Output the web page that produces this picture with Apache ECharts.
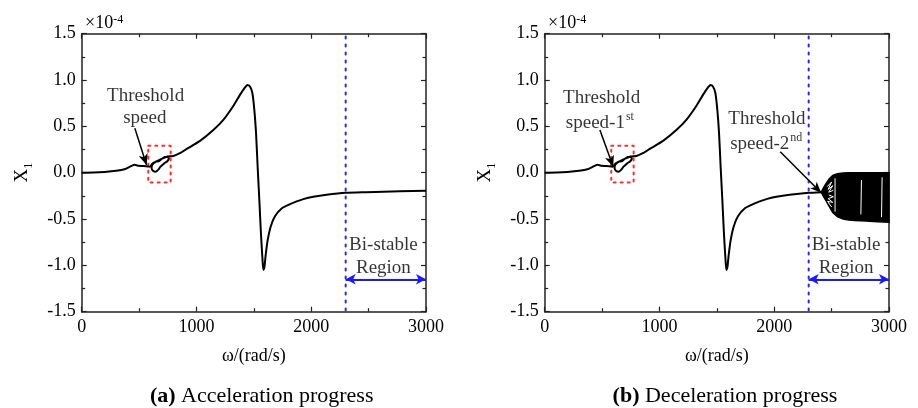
<!DOCTYPE html>
<html>
<head>
<meta charset="utf-8">
<script src="https://cdn.jsdelivr.net/npm/echarts@6/dist/echarts.min.js"></script>
<style>html,body{margin:0;padding:0;background:#fff}#c{width:918px;height:408px}</style>
</head>
<body>
<div id="c"></div>
<script>
// values of X1 in units of 1e-4
const omegaAcc = [0,100,200,300,380,430,460,490,540,594,617,646,675,696,724,748,759,748,718,687,666,646,623,609,614,646,696,748,768,799,855,915,1031,1147,1234,1321,1379,1423,1443,1466,1487,1504,1519,1533,1548,1562,1574,1583,1592,1603,1620,1647,1684,1742,1815,1873,1931,2018,2134,2300,2483,2773,3000];
const x1Acc    = [0,0.002,0.008,0.02,0.04,0.07,0.085,0.076,0.072,0.065,0.10,0.119,0.126,0.148,0.17,0.173,0.155,0.126,0.10,0.065,0.03,0.011,0.018,0.048,0.083,0.119,0.15,0.175,0.178,0.18,0.21,0.256,0.343,0.46,0.57,0.72,0.84,0.92,0.946,0.93,0.86,0.68,0.43,0.065,-0.30,-0.66,-0.91,-1.05,-1.02,-0.89,-0.73,-0.58,-0.47,-0.386,-0.34,-0.31,-0.285,-0.26,-0.238,-0.217,-0.21,-0.20,-0.195];
const omegaDec = [0,100,200,300,380,430,460,490,540,594,617,646,675,696,724,748,759,748,718,687,666,646,623,609,614,646,696,748,768,799,855,915,1031,1147,1234,1321,1379,1423,1443,1466,1487,1504,1519,1533,1548,1562,1574,1583,1592,1603,1620,1647,1684,1742,1815,1873,1931,2018,2134,2300,2410];
const x1Dec    = [0,0.002,0.008,0.02,0.04,0.07,0.085,0.076,0.072,0.065,0.10,0.119,0.126,0.148,0.17,0.173,0.155,0.126,0.10,0.065,0.03,0.011,0.018,0.048,0.083,0.119,0.15,0.175,0.178,0.18,0.21,0.256,0.343,0.46,0.57,0.72,0.84,0.92,0.946,0.93,0.86,0.68,0.43,0.065,-0.30,-0.66,-0.91,-1.05,-1.02,-0.89,-0.73,-0.58,-0.47,-0.386,-0.34,-0.31,-0.285,-0.26,-0.238,-0.217,-0.21];
const bandOmega = [2410,2420,2435,2455,2480,2510,2550,2600,2650,2700,2800,2900,3000];
const bandUpper = [-0.21,-0.185,-0.15,-0.11,-0.065,-0.03,-0.01,-0.003,0.0,0.0,0.0,0.0,0.0];
const bandLower = [-0.21,-0.235,-0.27,-0.31,-0.365,-0.43,-0.475,-0.50,-0.51,-0.515,-0.52,-0.53,-0.535];
// white gaps visible inside the dense oscillation band
const hatchLines = [
  [[2462,-0.15],[2500,-0.10],[2470,-0.18],[2510,-0.14],[2475,-0.21],[2515,-0.19]],
  [[2475,-0.24],[2515,-0.26],[2470,-0.28],[2510,-0.32],[2465,-0.31],[2500,-0.37]],
  [[2530,-0.06],[2530,-0.42]],
  [[2760,-0.08],[2755,-0.45]],
  [[2940,-0.05],[2935,-0.48]]
];
const xTicks = [0,1000,2000,3000];
const yTicks = [-1.5,-1.0,-0.5,0.0,0.5,1.0,1.5];
const boundaryOmega = 2300;
const thresholdBox = [[580,0.29],[775,0.29],[775,-0.105],[580,-0.105],[580,0.29]];

const FONT = 'Liberation Serif, Times New Roman, serif';
const chart = echarts.init(document.getElementById('c'), null, {renderer:'canvas'});

const gridW = 344.3, gridH = 278, gridTop = 33.7;
const grids = [
  {left:81.7, top:gridTop, width:gridW, height:gridH},
  {left:544.7, top:gridTop, width:gridW, height:gridH}
];

function xAxes(gi){
  const base = {
    type:'value', gridIndex:gi, min:xTicks[0], max:xTicks[xTicks.length-1], interval:1000,
    axisLine:{show:true, onZero:false, lineStyle:{color:'#222', width:1.5}},
    axisTick:{show:true, inside:true, length:5, lineStyle:{color:'#222', width:1.2}},
    minorTick:{show:true, splitNumber:2, length:3.5, lineStyle:{color:'#222', width:1.2}},
    splitLine:{show:false}
  };
  return [
    Object.assign({}, base, {position:'bottom',
      axisLabel:{show:true, margin:7, fontFamily:FONT, fontSize:18, color:'#000', formatter:v=>String(v)},
      name:'ω/(rad/s)', nameLocation:'middle', nameGap:36,
      nameTextStyle:{fontFamily:FONT, fontSize:18, color:'#000'}}),
    Object.assign({}, base, {position:'top', axisLabel:{show:false}})
  ];
}
function yAxes(gi){
  const base = {
    type:'value', gridIndex:gi, min:yTicks[0], max:yTicks[yTicks.length-1], interval:0.5,
    axisLine:{show:true, onZero:false, lineStyle:{color:'#222', width:1.5}},
    axisTick:{show:true, inside:true, length:5, lineStyle:{color:'#222', width:1.2}},
    minorTick:{show:true, splitNumber:2, length:3.5, lineStyle:{color:'#222', width:1.2}},
    splitLine:{show:false}
  };
  return [
    Object.assign({}, base, {position:'left',
      axisLabel:{show:true, margin:6, fontFamily:FONT, fontSize:18, color:'#000',
        formatter:v=>v.toFixed(1)},
      name:'{x|X}{s|1}', nameLocation:'middle', nameGap:50, nameRotate:90,
      nameTextStyle:{fontFamily:FONT, fontSize:19, color:'#000',
        rich:{x:{fontFamily:FONT, fontSize:19, color:'#000', verticalAlign:'bottom'},
              s:{fontFamily:FONT, fontSize:12, color:'#000', verticalAlign:'bottom', padding:[0,0,-3,0]}}}}),
    Object.assign({}, base, {position:'right', axisLabel:{show:false}})
  ];
}

function zip(a,b){ return a.map((v,i)=>[v,b[i]]); }

function panelSeries(gi, omega, x1, texts, arrows){
  const xi = gi*2, yi = gi*2;
  const s = [];
  s.push({type:'line', xAxisIndex:xi, yAxisIndex:yi, data:zip(omega,x1), showSymbol:false, symbol:'none',
    smooth:0.2, lineStyle:{color:'#000', width:2}, z:5, silent:true});
  // red dotted box
  s.push({type:'line', xAxisIndex:xi, yAxisIndex:yi, data:thresholdBox, symbol:'none',
    lineStyle:{color:'#ff2a2a', width:2, type:[2,5], cap:'round'}, z:4, silent:true});
  // blue dotted boundary + bistable arrow
  s.push({type:'line', xAxisIndex:xi, yAxisIndex:yi, data:[[boundaryOmega,1.47],[boundaryOmega,-1.5]], symbol:'none',
    lineStyle:{color:'#2424ff', width:2, type:[2,6], cap:'round'}, z:3, silent:true,
    markLine:{silent:true, symbol:['arrow','arrow'], symbolSize:[8,10],
      lineStyle:{color:'#1a1aff', width:2, type:'solid'}, label:{show:false},
      data:[[{coord:[boundaryOmega,-1.15]},{coord:[3000,-1.15]}]]}});
  // annotation arrows
  s.push({type:'line', xAxisIndex:xi, yAxisIndex:yi, data:[], symbol:'none',
    markLine:{silent:true, symbol:['none','arrow'], symbolSize:[7,11],
      lineStyle:{color:'#000', width:1.5, type:'solid'}, label:{show:false},
      data:arrows.map(a=>[{coord:a[0]},{coord:a[1]}])}});
  // texts
  s.push({type:'scatter', xAxisIndex:xi, yAxisIndex:yi, symbolSize:0, silent:true, z:10,
    data:texts.map(t=>({value:[t[0],t[1]], label:{formatter:t[2]}})),
    label:{show:true, position:'inside', fontFamily:FONT, fontSize:19, color:'#000',
      rich:{n:{fontFamily:FONT, fontSize:19, color:'#000', verticalAlign:'bottom', lineHeight:22},
            sup:{fontFamily:FONT, fontSize:12, color:'#000', verticalAlign:'top', lineHeight:22, padding:[0,0,0,1]}}}});
  return s;
}

const textsA = [
  [557,0.847,'{n|Threshold}'],
  [550,0.605,'{n|speed}'],
  [2629,-0.762,'{n|Bi-stable}'],
  [2629,-1.008,'{n|Region}']
];
const arrowsA = [[[463,0.48],[565,0.083]]];
const textsB = [
  [496,0.82,'{n|Threshold}'],
  [481,0.55,'{n|speed-1}{sup|st}'],
  [1936,0.594,'{n|Threshold}'],
  [1930,0.324,'{n|speed-2}{sup|nd}'],
  [2626,-0.762,'{n|Bi-stable}'],
  [2626,-1.008,'{n|Region}']
];
const arrowsB = [[[481,0.46],[597,0.065]],[[2052,0.227],[2409,-0.216]]];

const series = [].concat(
  panelSeries(0, omegaAcc, x1Acc, textsA, arrowsA),
  panelSeries(1, omegaDec, x1Dec, textsB, arrowsB)
);
// bistable band (deceleration)
series.push({type:'custom', xAxisIndex:2, yAxisIndex:2, data:[[bandOmega[0], bandUpper[0]]], z:6, silent:true,
  renderItem:function(params, api){
    const up = bandOmega.map((w,i)=>api.coord([w,bandUpper[i]]));
    const lo = bandOmega.map((w,i)=>api.coord([w,bandLower[i]])).reverse();
    const children = [{type:'polygon', shape:{points:up.concat(lo)},
      style:{fill:'#000', stroke:'#000', lineWidth:1.5}}];
    hatchLines.forEach(h=>{
      children.push({type:'polyline', shape:{points:h.map(p=>api.coord(p))},
        style:{fill:null, stroke:'#fff', lineWidth:1}});
    });
    return {type:'group', children:children};
  }});

const graphic = [
  {type:'text', left:85, top:14, style:{text:'×10{s|-4}', fontFamily:FONT, fontSize:18, fill:'#000',
    rich:{s:{fontFamily:FONT, fontSize:12, verticalAlign:'top', fill:'#000', padding:[0,0,6,0]}}}},
  {type:'text', left:548, top:14, style:{text:'×10{s|-4}', fontFamily:FONT, fontSize:18, fill:'#000',
    rich:{s:{fontFamily:FONT, fontSize:12, verticalAlign:'top', fill:'#000', padding:[0,0,6,0]}}}},
  {type:'text', x:261.7, y:396.7, style:{text:'{b|(a)} Acceleration progress', fontFamily:FONT, fontSize:22, fill:'#000',
    align:'center', verticalAlign:'middle', rich:{b:{fontFamily:FONT, fontSize:22, fontWeight:'bold', fill:'#000'}}}},
  {type:'text', x:725, y:396.7, style:{text:'{b|(b)} Deceleration progress', fontFamily:FONT, fontSize:22, fill:'#000',
    align:'center', verticalAlign:'middle', rich:{b:{fontFamily:FONT, fontSize:22, fontWeight:'bold', fill:'#000'}}}}
];

chart.setOption({
  animation:false,
  backgroundColor:'#fff',
  textStyle:{fontFamily:FONT},
  grid:grids,
  xAxis:[].concat(xAxes(0), xAxes(1)),
  yAxis:[].concat(yAxes(0), yAxes(1)),
  series:series,
  graphic:graphic
});
</script>
</body>
</html>
